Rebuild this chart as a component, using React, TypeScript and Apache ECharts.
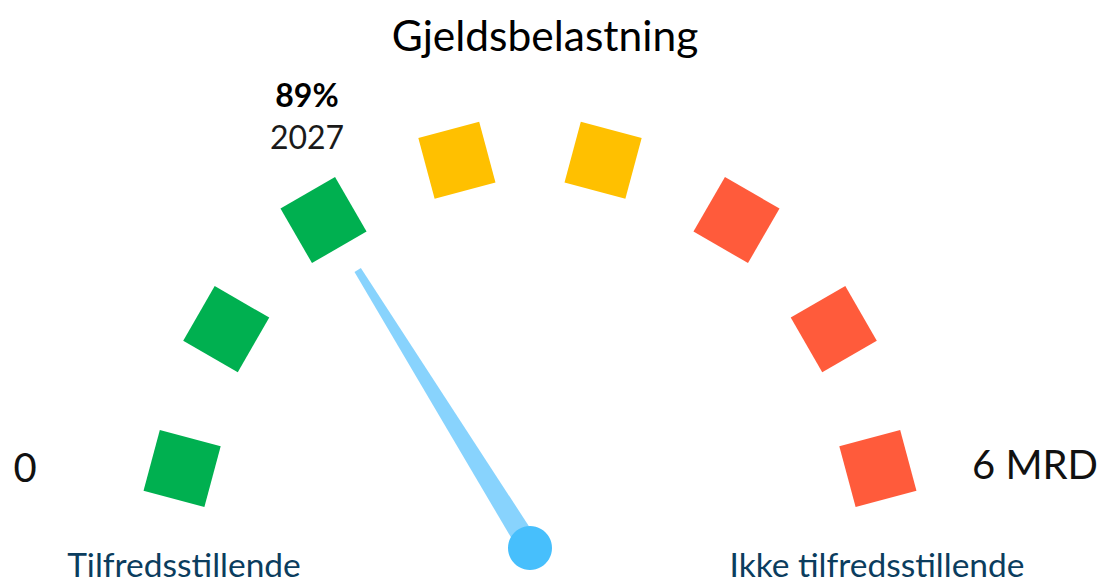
import React, { useEffect, useRef } from "react";
import * as echarts from "echarts";

// ---- data ----
const chartTitle = "Gjeldsbelastning";
const segmentColors = ["#00B050", "#00B050", "#00B050", "#FFC000", "#FFC000", "#FF5B3B", "#FF5B3B", "#FF5B3B"];
const scaleMin = 0;
const scaleMax = 6;
const scaleLabels = ["0", "6 MRD"];
const needleValue = 1.94; // MRD
const valueLabel = "89%";
const yearLabel = "2027";
const zoneLabels = ["Tilfredsstillende", "Ikke tilfredsstillende"];

// ---- styles ----
const squareRotations = [-15, -30, 30, 15, -15, -30, 30, 15];
const FONT = "Lato, 'Open Sans', sans-serif";
const ARC_START = 174.5;
const ARC_END = 5.5;

export default function App() {
  const ref = useRef<HTMLDivElement>(null);

  useEffect(() => {
    if (!ref.current) return;
    const chart = echarts.init(ref.current, null, { renderer: "svg" });
    const n = segmentColors.length;
    const step = (ARC_START - ARC_END) / (n - 1);

    const option: any = {
      animation: false,
      backgroundColor: "#ffffff",
      polar: { center: [530, 502], radius: 349.5 },
      angleAxis: { type: "value", min: 0, max: 360, startAngle: 0, clockwise: false, show: false },
      radiusAxis: { type: "value", min: 0, max: 1, show: false },
      series: [
        {
          type: "scatter",
          coordinateSystem: "polar",
          symbol: "rect",
          symbolSize: 63,
          silent: true,
          itemStyle: { opacity: 1 },
          data: segmentColors.map((c, i) => ({
            value: [1, ARC_START - i * step],
            symbolRotate: squareRotations[i],
            itemStyle: { color: c, opacity: 1 },
          })),
        },
        {
          type: "gauge",
          center: [530, 548],
          radius: 330,
          startAngle: 180,
          endAngle: 0,
          min: scaleMin,
          max: scaleMax,
          axisLine: { show: false, lineStyle: { width: 0 } },
          splitLine: { show: false },
          axisTick: { show: false },
          axisLabel: { show: false },
          pointer: {
            show: true,
            icon: "path://M3.3,0 L6.7,0 L10,100 L0,100 Z",
            length: 327,
            width: 22,
            keepAspect: false,
            itemStyle: { color: "#88D3FD" },
          },
          anchor: { show: true, showAbove: true, size: 44, itemStyle: { color: "#47BFFC" } },
          title: { show: false },
          detail: {
            show: true,
            offsetCenter: [-223, -433],
            formatter: () => `{p|${valueLabel}}\n{y|${yearLabel}}`,
            rich: {
              p: { fontFamily: FONT, fontSize: 32, fontWeight: "bold", color: "#000", lineHeight: 42 },
              y: { fontFamily: FONT, fontSize: 32, fontWeight: "normal", color: "#1a1a1a", lineHeight: 42 },
            },
          },
          data: [{ value: needleValue }],
        },
      ],
      graphic: [
        {
          type: "text",
          x: 545,
          y: 34,
          style: { text: chartTitle, fontFamily: FONT, fontSize: 42.5, fill: "#000", textAlign: "center", textVerticalAlign: "middle" },
        },
        {
          type: "text",
          x: 25,
          y: 467,
          style: { text: scaleLabels[0], fontFamily: FONT, fontSize: 40, fill: "#111", textAlign: "center", textVerticalAlign: "middle" },
        },
        {
          type: "text",
          x: 1035,
          y: 464,
          style: { text: scaleLabels[1], fontFamily: FONT, fontSize: 40, fill: "#111", textAlign: "center", textVerticalAlign: "middle" },
        },
        {
          type: "text",
          x: 184,
          y: 564,
          style: { text: zoneLabels[0], fontFamily: FONT, fontSize: 33.5, lineHeight: 34, fill: "#0B3D5E", textAlign: "center", textVerticalAlign: "middle" },
        },
        {
          type: "text",
          x: 877,
          y: 564,
          style: { text: zoneLabels[1], fontFamily: FONT, fontSize: 33.5, lineHeight: 34, fill: "#0B3D5E", textAlign: "center", textVerticalAlign: "middle" },
        },
      ],
    };
    chart.setOption(option);
    return () => chart.dispose();
  }, []);

  return <div ref={ref} style={{ position: "absolute", left: 0, top: 0, width: 1104, height: 584 }} />;
}
